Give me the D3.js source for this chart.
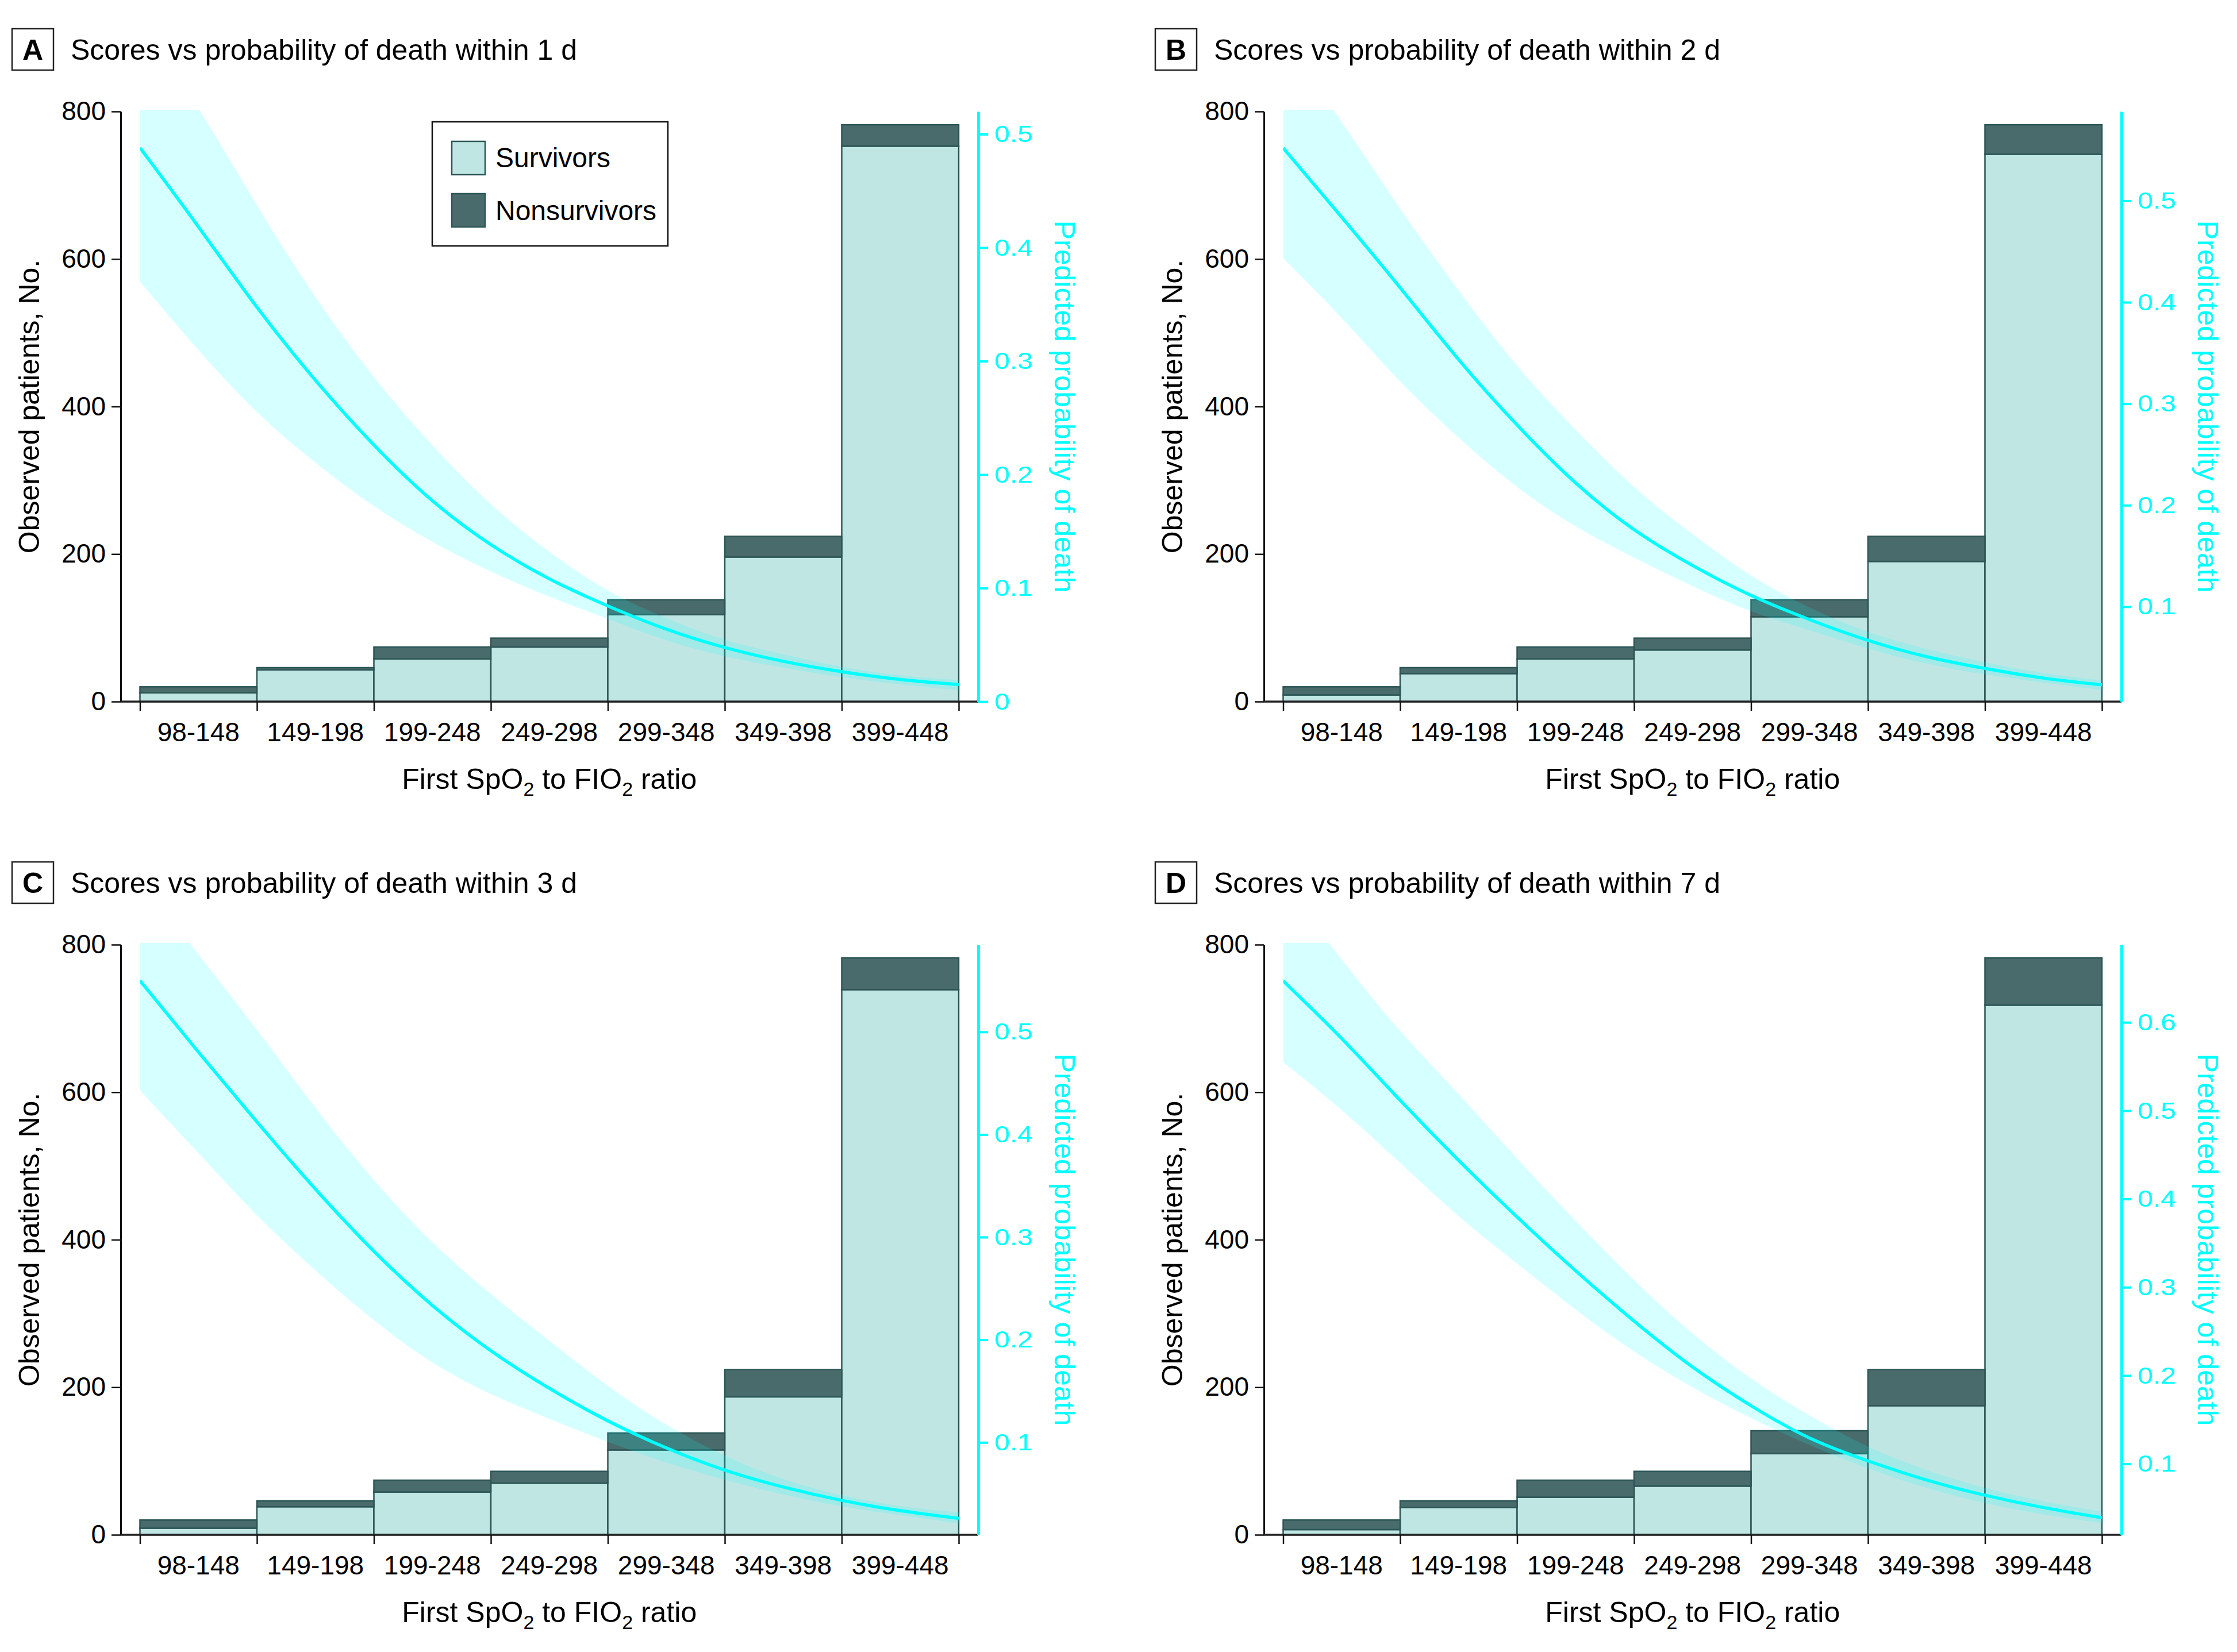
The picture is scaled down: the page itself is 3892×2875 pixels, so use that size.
<!DOCTYPE html>
<html><head><meta charset="utf-8">
<script src="https://cdn.jsdelivr.net/npm/d3@7"></script>
<style>
body{margin:0;background:#fff}
text{font-family:"Liberation Sans",Arial,sans-serif}
</style>
</head><body>
<svg id="chart" width="3892" height="2875"></svg>
<script>
// ---------- data ----------
const categories = ["98-148","149-198","199-248","249-298","299-348","349-398","399-448"];
const binEdges = [98,148,198,248,298,348,398,448];
const countTicks = [0,200,400,600,800];
const sfGrid = [98,123,148,173,198,223,248,273,298,323,348,373,398,423,448];

const survivorsA    = [12,43,58,74,118,196,753];
const nonsurvivorsA = [8,3,16,12,20,28,29];
const survivorsB    = [9,38,58,70,115,190,742];
const nonsurvivorsB = [11,8,16,16,23,34,40];
const survivorsC    = [9,38,58,70,115,187,739];
const nonsurvivorsC = [11,8,16,16,23,37,43];
const survivorsD    = [7,37,51,66,110,175,718];
const nonsurvivorsD = [13,9,23,20,31,49,64];

const probA  = [0.488,0.419,0.346,0.282,0.225,0.175,0.137,0.107,0.084,0.063,0.047,0.035,0.026,0.019,0.015];
const upperA = [0.600,0.525,0.436,0.355,0.284,0.225,0.172,0.131,0.096,0.073,0.053,0.042,0.030,0.0225,0.019];
const lowerA = [0.370,0.309,0.253,0.210,0.171,0.140,0.114,0.092,0.073,0.053,0.039,0.030,0.021,0.015,0.010];

const probB  = [0.552,0.484,0.415,0.342,0.278,0.220,0.174,0.140,0.110,0.087,0.066,0.050,0.039,0.029,0.023];
const upperB = [0.660,0.579,0.491,0.411,0.335,0.274,0.216,0.171,0.129,0.098,0.074,0.058,0.045,0.034,0.0275];
const lowerB = [0.4435,0.386,0.320,0.266,0.216,0.178,0.148,0.120,0.094,0.077,0.058,0.043,0.033,0.025,0.018];

const probC  = [0.550,0.480,0.412,0.346,0.285,0.232,0.188,0.152,0.120,0.094,0.072,0.056,0.043,0.033,0.026];
const upperC = [0.650,0.575,0.503,0.425,0.354,0.293,0.244,0.199,0.154,0.116,0.086,0.063,0.048,0.037,0.032];
const lowerC = [0.443,0.382,0.320,0.267,0.218,0.176,0.146,0.123,0.100,0.080,0.063,0.049,0.037,0.029,0.021];

const probD  = [0.647,0.583,0.511,0.443,0.379,0.318,0.261,0.208,0.165,0.127,0.103,0.081,0.064,0.050,0.039];
const upperD = [0.760,0.670,0.588,0.520,0.445,0.375,0.307,0.246,0.195,0.154,0.118,0.092,0.072,0.057,0.046];
const lowerD = [0.555,0.502,0.441,0.379,0.327,0.274,0.226,0.186,0.151,0.121,0.094,0.072,0.055,0.042,0.033];

const probDomainA = [0, 0.52],       probTicksA = [0,0.1,0.2,0.3,0.4,0.5];
const probDomainB = [0.0065, 0.588], probTicksB = [0.1,0.2,0.3,0.4,0.5];
const probDomainC = [0.010, 0.585],  probTicksC = [0.1,0.2,0.3,0.4,0.5];
const probDomainD = [0.0197, 0.688], probTicksD = [0.1,0.2,0.3,0.4,0.5,0.6];

const titles = ["Scores vs probability of death within 1 d","Scores vs probability of death within 2 d",
                "Scores vs probability of death within 3 d","Scores vs probability of death within 7 d"];
const panelLetters = ["A","B","C","D"];
const legendLabels = ["Survivors","Nonsurvivors"];

// ---------- styles ----------
const COL_SURV = "#c0e6e4", COL_NON = "#4a6b6b", COL_EDGE = "#2c5656", CYAN = "#00ffff";

const panels = [
  {surv: survivorsA, non: nonsurvivorsA, prob: probA, up: upperA, lo: lowerA, dom: probDomainA, ticks: probTicksA, legend: true,  ox: 0,    oy: 0},
  {surv: survivorsB, non: nonsurvivorsB, prob: probB, up: upperB, lo: lowerB, dom: probDomainB, ticks: probTicksB, legend: false, ox: 1989, oy: 0},
  {surv: survivorsC, non: nonsurvivorsC, prob: probC, up: upperC, lo: lowerC, dom: probDomainC, ticks: probTicksC, legend: false, ox: 0,    oy: 1450},
  {surv: survivorsD, non: nonsurvivorsD, prob: probD, up: upperD, lo: lowerD, dom: probDomainD, ticks: probTicksD, legend: false, ox: 1989, oy: 1450}
];

const svg = d3.select("#chart");
svg.append("rect").attr("width",3892).attr("height",2875).attr("fill","#fff");

const G = {axisL: 210, left: 243.5, right: 1668, axisR: 1702, top: 194, bottom: 1221};

panels.forEach((p, i) => {
  const g = svg.append("g").attr("transform", `translate(${p.ox},${p.oy})`);
  const x = d3.scaleLinear().domain([binEdges[0], binEdges[binEdges.length-1]]).range([G.left, G.right]);
  const yL = d3.scaleLinear().domain([0, 800]).range([G.bottom, G.top]);
  const yR = d3.scaleLinear().domain(p.dom).range([G.bottom, G.top]);

  // panel label + title
  g.append("rect").attr("x",21).attr("y",50).attr("width",72).attr("height",72)
    .attr("fill","#fff").attr("stroke","#222").attr("stroke-width",2.5);
  g.append("text").attr("x",57).attr("y",104).attr("text-anchor","middle")
    .attr("font-size",50).attr("font-weight","bold").text(panelLetters[i]);
  g.append("text").attr("x",123).attr("y",104).attr("font-size",50).text(titles[i]);

  const clipId = "clip"+i;
  g.append("clipPath").attr("id",clipId).append("rect")
    .attr("x",G.left).attr("y",G.top-3).attr("width",G.right-G.left).attr("height",G.bottom-G.top+3);

  // bars
  const bars = categories.map((c, k) => ({c, x0: binEdges[k], x1: binEdges[k+1], s: p.surv[k], n: p.non[k]}));
  g.append("g").selectAll("rect").data(bars).join("rect")
    .attr("x", d => x(d.x0)).attr("width", d => x(d.x1)-x(d.x0))
    .attr("y", d => yL(d.s)).attr("height", d => yL(0)-yL(d.s))
    .attr("fill", COL_SURV).attr("stroke", COL_EDGE).attr("stroke-width", 2.5);
  g.append("g").selectAll("rect").data(bars).join("rect")
    .attr("x", d => x(d.x0)).attr("width", d => x(d.x1)-x(d.x0))
    .attr("y", d => yL(d.s+d.n)).attr("height", d => yL(d.s)-yL(d.s+d.n))
    .attr("fill", COL_NON).attr("stroke", COL_EDGE).attr("stroke-width", 2.5);

  // CI band + line
  const pts = sfGrid.map((sf, k) => ({sf, m: p.prob[k], u: p.up[k], l: p.lo[k]}));
  const cg = g.append("g").attr("clip-path", `url(#${clipId})`);
  cg.append("path").datum(pts)
    .attr("d", d3.area().x(d => x(d.sf)).y0(d => yR(d.l)).y1(d => yR(d.u)).curve(d3.curveBasis))
    .attr("fill", CYAN).attr("fill-opacity", 0.16);
  cg.append("path").datum(pts)
    .attr("d", d3.line().x(d => x(d.sf)).y(d => yR(d.m)).curve(d3.curveBasis))
    .attr("fill","none").attr("stroke", CYAN).attr("stroke-width", 5.5);

  // left axis
  const la = g.append("g").attr("transform",`translate(${G.axisL},0)`)
    .call(d3.axisLeft(yL).tickValues(countTicks).tickSize(16).tickSizeOuter(0).tickPadding(10));
  la.select(".domain").attr("stroke","#111").attr("stroke-width",3);
  la.selectAll(".tick line").attr("stroke","#111").attr("stroke-width",2.5);
  la.selectAll(".tick text").attr("font-size",46).attr("font-family","Liberation Sans, Arial, sans-serif").attr("fill","#000");

  // bottom baseline + ticks
  g.append("line").attr("x1",G.axisL).attr("x2",G.axisR).attr("y1",G.bottom).attr("y2",G.bottom)
    .attr("stroke","#222").attr("stroke-width",3.5);
  const ba = g.append("g").attr("transform",`translate(0,${G.bottom})`)
    .call(d3.axisBottom(x).tickValues(binEdges).tickSize(16).tickSizeOuter(0).tickFormat(""));
  ba.select(".domain").remove();
  ba.selectAll(".tick line").attr("stroke","#111").attr("stroke-width",2.5);
  g.append("g").selectAll("text").data(bars).join("text")
    .attr("x", d => (x(d.x0)+x(d.x1))/2).attr("y", 1290)
    .attr("text-anchor","middle").attr("font-size",46).text(d => d.c);

  // x title with subscripts
  const xt = g.append("text").attr("x",(G.left+G.right)/2).attr("y",1373).attr("text-anchor","middle").attr("font-size",50);
  xt.append("tspan").text("First SpO");
  xt.append("tspan").attr("font-size",34).attr("dy",12).text("2");
  xt.append("tspan").attr("dy",-12).text(" to FIO");
  xt.append("tspan").attr("font-size",34).attr("dy",12).text("2");
  xt.append("tspan").attr("dy",-12).text(" ratio");

  // left y title
  g.append("text").attr("transform",`translate(68,${(G.top+G.bottom)/2}) rotate(-90)`)
    .attr("text-anchor","middle").attr("font-size",50).text("Observed patients, No.");

  // right axis
  const ra = g.append("g").attr("transform",`translate(${G.axisR},0)`)
    .call(d3.axisRight(yR).tickValues(p.ticks).tickSize(17).tickSizeOuter(0).tickPadding(11)
      .tickFormat(d => d === 0 ? "0" : d3.format(".1f")(d)));
  ra.select(".domain").attr("stroke",CYAN).attr("stroke-width",5);
  ra.selectAll(".tick line").attr("stroke",CYAN).attr("stroke-width",4);
  ra.selectAll(".tick text").attr("font-size",41).attr("font-family","DejaVu Sans, sans-serif").attr("fill",CYAN)
    .attr("x",0).attr("transform","translate(28,0) scale(1.17,1)");
  g.append("text").attr("transform",`translate(1835,${(G.top+G.bottom)/2}) rotate(90)`)
    .attr("text-anchor","middle").attr("font-size",50).attr("fill",CYAN).text("Predicted probability of death");

  // legend
  if (p.legend) {
    const lg = g.append("g");
    lg.append("rect").attr("x",752).attr("y",212).attr("width",410).attr("height",216)
      .attr("fill","#fff").attr("stroke","#111").attr("stroke-width",2.5);
    const cols = [COL_SURV, COL_NON];
    legendLabels.forEach((lab, k) => {
      lg.append("rect").attr("x",786).attr("y",246 + k*91).attr("width",58).attr("height",58)
        .attr("fill",cols[k]).attr("stroke",COL_EDGE).attr("stroke-width",2.5);
      lg.append("text").attr("x",862).attr("y",291 + k*92).attr("font-size",48).text(lab);
    });
  }
});
</script>
</body></html>
